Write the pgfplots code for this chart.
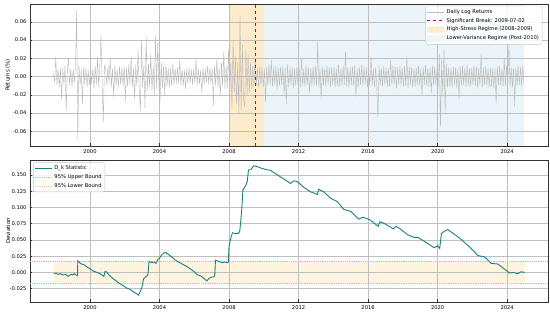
\documentclass[border=0pt]{standalone}
\usepackage{fontspec}
\setmainfont{DejaVu Sans}
\usepackage{pgfplots}
\pgfplotsset{compat=1.18}
\usepackage{pgfplotstable}

\definecolor{retgray}{HTML}{BDBDBD}
\definecolor{stressor}{HTML}{FDEBCB}
\definecolor{lowblue}{HTML}{EBF5F9}
\definecolor{breakred}{HTML}{B01818}
\definecolor{dkteal}{HTML}{16817E}
\definecolor{boundor}{HTML}{F6B55A}
\definecolor{bandfill}{HTML}{FFF4E0}

% daily log returns (thousandths), 15 values per year from 1997.9
\pgfplotstableread{
r
3
-6
22
-9
8
-12
10
-25
9
-8
12
-38
7
20
-10
9
-11
8
-7
10
73
-70
12
-9
8
-30
11
-8
10
-12
7
-10
11
-8
9
-13
12
-9
22
-11
10
45
-8
-50
12
10
-9
12
-8
20
-11
9
-22
13
-10
8
-12
11
-9
10
-10
12
-28
9
-11
14
-9
22
-12
10
-25
13
-11
30
-15
-38
40
-13
12
-35
45
-15
14
-12
25
-16
12
-20
45
-14
38
-12
-27
16
-13
12
-20
14
-11
10
-12
9
-10
15
-9
9
-8
10
-7
18
-9
8
-10
7
-14
9
-8
10
-7
8
-9
8
-7
20
-10
9
-8
7
-18
10
-9
8
-7
12
-9
10
-8
9
-32
12
-10
20
-12
10
-22
15
-11
28
-14
12
-13
30
-20
15
-35
40
-18
22
-30
16
-40
67
-37
35
-25
-32
28
-20
25
-18
15
-14
12
-11
20
-10
9
-12
11
-9
10
-12
9
-28
11
-10
13
-9
18
-11
10
-9
12
-14
9
-10
11
-9
12
-20
10
-30
14
-12
10
-9
11
-13
9
-10
11
-9
10
-12
20
-10
9
-11
12
-9
10
-18
9
-10
11
-9
12
-10
38
-12
9
-25
11
-10
9
-11
12
-9
10
-12
10
-9
11
-12
9
-10
13
-11
9
-10
12
-9
27
-11
10
-12
10
-9
11
-10
12
-22
9
-11
10
-9
13
-10
11
-9
10
-12
9
-11
22
-10
9
-12
10
-11
-45
12
-10
9
-11
11
-9
10
-12
9
-11
18
-10
12
-9
11
-13
10
-9
12
-10
9
-11
12
-10
22
-13
11
-9
10
-12
9
-11
10
-9
12
-10
9
-20
11
-9
13
-10
9
-11
10
-18
12
-9
11
-10
9
-12
25
-55
18
-20
30
-40
14
-12
10
-11
9
-13
11
-9
10
-12
9
-25
11
-10
12
-9
10
-11
13
-10
9
-11
10
-9
12
-10
11
-13
9
-10
25
-12
10
-9
11
-10
9
-12
10
-11
9
-13
10
-30
11
-9
12
-10
9
-11
20
-10
12
-9
35
-11
10
-12
9
-33
11
-10
12
-9
10
-11
12
-8
}\rets

\pgfplotsset{
  myax/.style={
    scale only axis, width=518pt, height=142pt,
    xmin=1996.55, xmax=2026.35,
    xtick={2000,2004,...,2024},
    tick align=inside, xtick pos=bottom, ytick pos=left,
    grid=major, major grid style={draw=black!25, line width=0.5pt},
    axis line style={draw=black!80, line width=0.8pt},
    major tick style={black!80, line width=0.5pt}, major tick length=2.5pt,
    tick label style={font=\fontsize{5.2}{6}\selectfont},
    label style={font=\fontsize{5.4}{6}\selectfont},
    /pgf/number format/1000 sep={},
    /pgf/number format/assume math mode=true,
    scaled y ticks=false,
    set layers,
    legend cell align=left,
    legend style={font=\fontsize{5.2}{6.2}\selectfont, draw=black!22,
      rounded corners=1.5pt, fill=white, fill opacity=0.85, text opacity=1,
      inner sep=1.2pt, row sep=-0.6pt},
    y label style={at={(axis description cs:-0.0425,0.5)}, anchor=center},
  }
}

\begin{document}
\begin{tikzpicture}
% ---------- top panel ----------
\begin{axis}[myax, at={(0,0)}, anchor=north west,
  ymin=-0.0762, ymax=0.0796,
  ytick={-0.06,-0.04,-0.02,0,0.02,0.04,0.06},
  yticklabel style={/pgf/number format/.cd, fixed, fixed zerofill, precision=2},
  ylabel={Returns (\%)},
  legend style={at={(0.989,0.987)}, anchor=north east},
]
\addplot[forget plot, fill=stressor, draw=none, on layer=axis background]
  coordinates {(2008,-0.0762) (2010,-0.0762) (2010,0.0796) (2008,0.0796)} -- cycle;
\addplot[forget plot, fill=lowblue, draw=none, on layer=axis background]
  coordinates {(2010,-0.0762) (2024.98,-0.0762) (2024.98,0.0796) (2010,0.0796)} -- cycle;
\addplot[forget plot, retgray, line width=0.45pt]
  table[x index=0, y index=0, x expr=1997.9+\coordindex/15, y expr=\thisrowno{0}/1000] {\rets};
\addplot[forget plot, breakred, dashed, line width=0.8pt]
  coordinates {(2009.5,-0.0762) (2009.5,0.0796)};
\addlegendimage{retgray, line width=0.4pt}
\addlegendentry{Daily Log Returns}
\addlegendimage{breakred, dashed, line width=0.8pt}
\addlegendentry{Significant Break: 2009-07-02}
\addlegendimage{area legend, fill=stressor, draw=stressor}
\addlegendentry{High-Stress Regime (2008--2009)}
\addlegendimage{area legend, fill=lowblue, draw=lowblue}
\addlegendentry{Lower-Variance Regime (Post-2010)}
\end{axis}

% ---------- bottom panel ----------
\begin{axis}[myax, at={(0,-156pt)}, anchor=north west,
  ymin=-0.0455, ymax=0.173,
  ytick={-0.025,0,0.025,0.05,0.075,0.1,0.125,0.15},
  yticklabel style={/pgf/number format/.cd, fixed, fixed zerofill, precision=3},
  ylabel={Deviation},
  legend style={at={(0.006,0.985)}, anchor=north west},
]
\addplot[forget plot, fill=bandfill, draw=none, on layer=axis background]
  coordinates {(1997.92,-0.0165) (2025.0,-0.0165) (2025.0,0.0165) (1997.92,0.0165)} -- cycle;
\addplot[forget plot, boundor, line width=0.6pt, dash pattern=on 0.7pt off 1.1pt]
  coordinates {(1996.55,0.0165) (2026.35,0.0165)};
\addplot[forget plot, boundor, line width=0.6pt, dash pattern=on 0.7pt off 1.1pt]
  coordinates {(1996.55,-0.0165) (2026.35,-0.0165)};
\addplot[forget plot, dkteal, line width=0.9pt] coordinates {
(1997.92,-0.001) (1998.1,-0.002) (1998.2,-0.003) (1998.3,-0.002) (1998.45,-0.004)
(1998.6,-0.003) (1998.75,-0.006) (1998.9,-0.003) (1999.0,-0.004) (1999.1,-0.002)
(1999.2,-0.004) (1999.28,-0.005) (1999.3,0.018) (1999.4,0.015) (1999.5,0.013)
(1999.65,0.012) (1999.8,0.009) (2000.0,0.0056) (2000.2,0.002) (2000.4,0.000)
(2000.58,-0.002) (2000.8,-0.006) (2000.87,0.0015) (2000.95,0.001) (2001.1,-0.004)
(2001.3,-0.009) (2001.5,-0.013) (2001.7,-0.017) (2001.9,-0.020) (2002.1,-0.024)
(2002.3,-0.026) (2002.5,-0.030) (2002.7,-0.033) (2002.79,-0.035) (2002.88,-0.030)
(2002.98,-0.024) (2003.08,-0.010) (2003.2,-0.007) (2003.33,-0.004) (2003.4,0.017)
(2003.55,0.015) (2003.7,0.016) (2003.8,0.014) (2003.9,0.020) (2004.0,0.022)
(2004.1,0.026) (2004.25,0.030) (2004.35,0.031) (2004.5,0.028) (2004.7,0.024)
(2004.9,0.019) (2005.1,0.016) (2005.3,0.013) (2005.58,0.009) (2005.8,0.005)
(2006.0,0.001) (2006.2,-0.004) (2006.35,-0.005) (2006.5,-0.008) (2006.73,-0.013)
(2006.85,-0.009) (2007.0,-0.007) (2007.1,-0.007) (2007.18,-0.005) (2007.22,0.019)
(2007.4,0.017) (2007.6,0.015) (2007.75,0.016) (2007.9,0.015) (2007.96,0.016)
(2008.0,0.040) (2008.1,0.053) (2008.2,0.061) (2008.35,0.060) (2008.55,0.060)
(2008.62,0.064) (2008.72,0.092) (2008.8,0.127) (2008.95,0.133) (2009.05,0.140)
(2009.12,0.158) (2009.25,0.158) (2009.42,0.164) (2009.6,0.163) (2009.9,0.160)
(2010.2,0.158) (2010.39,0.157) (2010.96,0.147) (2011.25,0.142) (2011.54,0.137)
(2011.73,0.141) (2011.92,0.140) (2012.3,0.131) (2012.69,0.124) (2013.08,0.120)
(2013.16,0.128) (2013.45,0.124) (2013.85,0.114) (2014.23,0.109) (2014.6,0.097)
(2015.0,0.094) (2015.46,0.082) (2015.7,0.085) (2016.1,0.081) (2016.58,0.071)
(2016.68,0.078) (2016.96,0.075) (2017.45,0.067) (2017.6,0.071) (2017.85,0.067)
(2018.27,0.058) (2018.65,0.054) (2018.85,0.054) (2019.23,0.048) (2019.8,0.038)
(2020.0,0.041) (2020.12,0.037) (2020.22,0.060) (2020.37,0.063) (2020.58,0.066)
(2020.85,0.061) (2021.35,0.051) (2021.92,0.037) (2022.31,0.026) (2022.69,0.024)
(2023.08,0.014) (2023.46,0.013) (2023.85,0.005) (2024.14,-0.001) (2024.35,0.000)
(2024.6,-0.002) (2024.8,0.001) (2025.0,0.000)};
\addlegendimage{dkteal, line width=0.9pt}
\addlegendentry{D\_k Statistic}
\addlegendimage{boundor, line width=0.6pt, dash pattern=on 0.7pt off 1.1pt}
\addlegendentry{95\% Upper Bound}
\addlegendimage{boundor!70, line width=0.6pt, dash pattern=on 0.7pt off 1.1pt}
\addlegendentry{95\% Lower Bound}
\end{axis}
\pgfresetboundingbox
\path (-30pt,4pt) rectangle (520pt,-308pt);
\end{tikzpicture}
\end{document}
